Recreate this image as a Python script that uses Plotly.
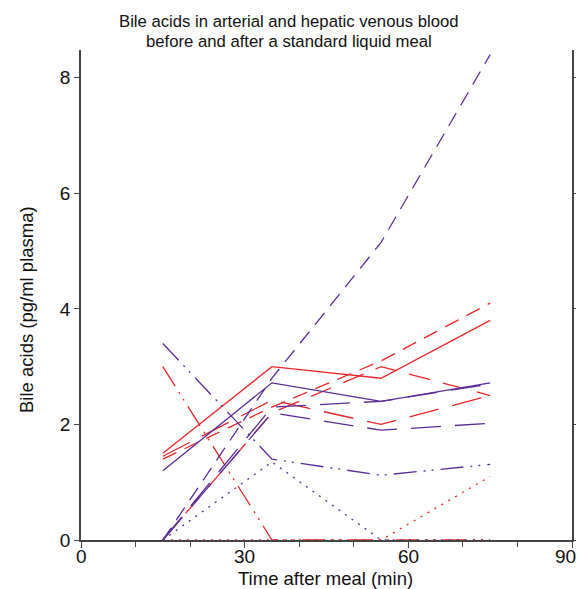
import plotly.graph_objects as go

times = [15, 35, 55, 75]

red_solid = [1.5, 3.0, 2.8, 3.8]
red_dash = [1.4, 2.3, 3.1, 4.1]
red_longdash_v = [1.45, 2.42, 2.0, 2.5]
red_longdash_rise = [0.0, 2.2, 3.0, 2.5]
red_dashdotdot = [3.0, 0.0, 0.0, 0.0]
red_dot = [0.0, 0.0, 0.0, 1.1]

pur_solid = [1.2, 2.72, 2.4, 2.72]
pur_dash = [0.0, 2.8, 5.15, 8.4]
pur_longdash_a = [0.0, 2.3, 2.4, 2.7]
pur_longdash_b = [0.0, 2.2, 1.9, 2.02]
pur_dashdotdot = [3.4, 1.4, 1.12, 1.31]
pur_dot = [0.0, 1.35, 0.0, 0.0]

x_ticks = [0, 30, 60, 90]
x_tick_labels = ["0", "30", "60", "90"]
x_minor = [10, 20, 40, 50, 70, 80]
y_ticks = [0, 2, 4, 6, 8]

title_lines = ["Bile acids in arterial and hepatic venous blood",
               "before and after a standard liquid meal"]
x_title = "Time after meal (min)"
y_title = "Bile acids (pg/ml plasma)"

RED = "#E8262B"
PUR = "#5A2E98"

DASHES = {
    "solid": "solid",
    "dash": "15px,9px",
    "mediumdash": "22px,13px",
    "longdash": "30px,14px",
    "dashdotdot": "23px,7px,2px,6px,2px,7px",
    "dot": "2px,6px",
}

series = [
    (red_solid, RED, "solid"),
    (red_dash, RED, "dash"),
    (red_longdash_v, RED, "longdash"),
    (red_longdash_rise, RED, "mediumdash"),
    (red_dashdotdot, RED, "dashdotdot"),
    (red_dot, RED, "dot"),
    (pur_solid, PUR, "solid"),
    (pur_dash, PUR, "dash"),
    (pur_longdash_a, PUR, "longdash"),
    (pur_longdash_b, PUR, "longdash"),
    (pur_dashdotdot, PUR, "dashdotdot"),
    (pur_dot, PUR, "dot"),
]

fig = go.Figure()
for vals, col, sty in series:
    fig.add_trace(go.Scatter(
        x=times, y=vals, mode="lines",
        line=dict(color=col, width=1.3, dash=DASHES[sty]),
        showlegend=False, hoverinfo="skip", cliponaxis=False,
    ))

FONT = "Liberation Sans, Arial, sans-serif"
# the page adds an 8px body margin; screen coordinates below are compensated
OFF = 8
W, H = 584 - OFF, 589 - OFF
X0, X1, Y0, Y1 = 81, 572, 50, 540  # plot area in screen pixels
L, R, T, B = X0 - OFF, 584 - X1, Y0 - OFF, 589 - Y1


def px_x(px):
    return (px - X0) / (X1 - X0)


def px_y(py):
    return (Y1 - py) / (Y1 - Y0)


TITLE_SIZE = 16.7
AXIS_TITLE_SIZE = 18.5
TICK_SIZE = 19

annotations = [
    dict(text=title_lines[0], x=px_x(289), y=px_y(22), xref="paper", yref="paper",
         xanchor="center", yanchor="middle", showarrow=False, font=dict(size=TITLE_SIZE)),
    dict(text=title_lines[1], x=px_x(289), y=px_y(41), xref="paper", yref="paper",
         xanchor="center", yanchor="middle", showarrow=False, font=dict(size=TITLE_SIZE)),
    dict(text=x_title, x=px_x(325), y=px_y(578), xref="paper", yref="paper",
         xanchor="center", yanchor="middle", showarrow=False, font=dict(size=AXIS_TITLE_SIZE)),
    dict(text=y_title, x=px_x(27), y=px_y(310), xref="paper", yref="paper",
         xanchor="center", yanchor="middle", showarrow=False, textangle=-90,
         font=dict(size=AXIS_TITLE_SIZE)),
]
# x tick labels (the last one is pulled inward so it stays inside the page)
for v, lab in zip(x_ticks, x_tick_labels):
    annotations.append(dict(
        text=lab, x=v, y=px_y(556), xref="x", yref="paper",
        xanchor="right" if v == x_ticks[-1] else "center", yanchor="middle",
        xshift=6 if v == x_ticks[-1] else 0,
        showarrow=False, font=dict(size=TICK_SIZE)))

fig.update_layout(
    width=W, height=H,
    margin=dict(l=L, r=R, t=T, b=B, autoexpand=False),
    paper_bgcolor="white", plot_bgcolor="white",
    font=dict(family=FONT, size=16, color="#111"),
    annotations=annotations,
    xaxis=dict(
        range=[0, 90], tickvals=x_ticks, ticks="outside", ticklen=6,
        tickcolor="#444", tickwidth=1.3, showticklabels=False,
        minor=dict(tickvals=x_minor, ticks="outside", ticklen=5,
                   tickcolor="#444", tickwidth=1.3),
        showline=True, linecolor="#444", linewidth=1.5, layer="below traces",
        showgrid=False, zeroline=False, automargin=False,
    ),
    yaxis=dict(
        range=[0, 8.48], tickvals=y_ticks, ticks="outside", ticklen=5,
        tickcolor="#444", tickwidth=1.3,
        showline=True, linecolor="#444", linewidth=1.5, mirror="ticks",
        layer="below traces",
        showgrid=False, zeroline=False, automargin=False,
        tickfont=dict(size=TICK_SIZE),
    ),
)

fig.write_html("out.html")
